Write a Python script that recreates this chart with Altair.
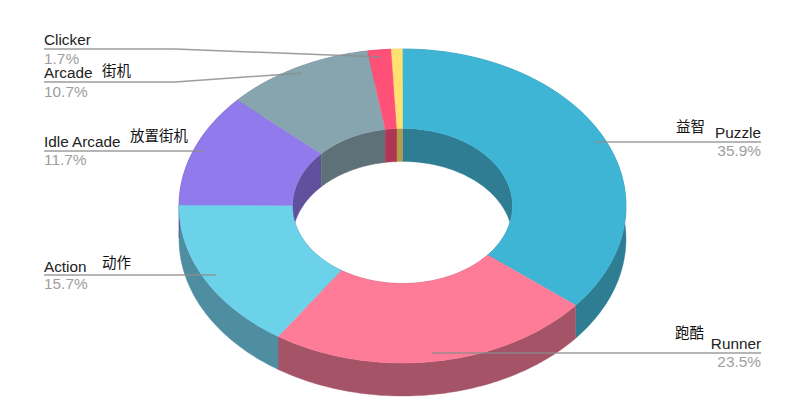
import math
import altair as alt

# ---- values ----
categories = ["Puzzle", "Runner", "Action", "Idle Arcade", "Arcade", "Clicker", "Other"]
shares = [35.9, 23.5, 15.7, 11.7, 10.7, 1.7, 0.8]
top_colors = ["#3FB5D6", "#FF7C98", "#6BD2E9", "#917BEC", "#87A5AF", "#FF5078", "#FFE070"]
wall_colors = ["#2F7D93", "#A55468", "#4F8EA0", "#61509E", "#5F7178", "#AE3654", "#B09C4A"]
label_names = ["Clicker", "Arcade", "Idle Arcade", "Action", "Puzzle", "Runner"]
label_pcts = ["1.7%", "10.7%", "11.7%", "15.7%", "35.9%", "23.5%"]
zh_labels = ["街机", "放置街机", "动作", "益智", "跑酷"]

# ---- layout of the tilted ring, in page pixels ----
CX, CY = 402.5, 206
RX, RY = 223.5, 157
HX, HY = 110, 77.5
DEPTH = 33
W, H = 781, 400


def pt(rx, ry, deg, dy=0):
    a = math.radians(deg)
    return [CX + rx * math.sin(a), CY - ry * math.cos(a) + dy]


def arc(rx, ry, a0, a1, dy=0):
    n = max(2, int(abs(a1 - a0)) + 2)
    return [pt(rx, ry, a0 + (a1 - a0) * i / (n - 1), dy) for i in range(n)]


def feature(name, ring):
    return {
        "type": "Feature",
        "properties": {"name": name},
        "geometry": {"type": "Polygon", "coordinates": [ring + [ring[0]]]},
    }


outer_walls, inner_walls, tops = [], [], []
total = 0.0
for cat, share in zip(categories, shares):
    a0 = total * 3.6
    total += share
    a1 = total * 3.6
    outer_walls.append(feature(cat + " wall", arc(RX, RY, a0, a1) + arc(RX, RY, a1, a0, DEPTH)))
    inner_walls.append(feature(cat + " wall", arc(HX, HY, a0, a1) + arc(HX, HY, a1, a0, DEPTH)))
    tops.append(feature(cat, arc(RX, RY, a0, a1) + arc(HX, HY, a1, a0)))

color_scale = alt.Scale(
    domain=categories + [c + " wall" for c in categories],
    range=top_colors + wall_colors,
)


def shapes(features):
    return (
        alt.Chart(alt.Data(values=features))
        .mark_geoshape(strokeWidth=0.4)
        .encode(
            fill=alt.Fill("properties.name:N", scale=color_scale, legend=None),
            stroke=alt.Stroke("properties.name:N", scale=color_scale, legend=None),
        )
        .project(type="identity", scale=1, translate=[-8, -8])
    )


X = alt.Scale(domain=[8, 8 + W])
Y = alt.Scale(domain=[8 + H, 8])


def xy(field_x="x", field_y="y"):
    return dict(
        x=alt.X(f"{field_x}:Q", scale=X, axis=None),
        y=alt.Y(f"{field_y}:Q", scale=Y, axis=None),
    )


# leader lines
leaders = [
    ("Clicker", [(44, 49), (175, 49), (381, 57)]),
    ("Arcade", [(44, 82), (175, 82), (302, 73)]),
    ("Idle Arcade", [(44, 151), (204, 151)]),
    ("Action", [(44, 275), (216, 275)]),
    ("Puzzle", [(595, 142), (761, 142)]),
    ("Runner", [(432, 353), (761, 353)]),
]
leader_rows = [
    {"k": k, "o": i, "x": p[0], "y": p[1]} for k, pts in leaders for i, p in enumerate(pts)
]
leader_layer = (
    alt.Chart(alt.Data(values=leader_rows))
    .mark_line(color="#8c8c8c", strokeWidth=1.5, opacity=0.85)
    .encode(detail="k:N", order="o:Q", **xy())
)

# labels
name_pos = [(44, 45), (44, 78), (44, 147), (44, 272), (761, 138), (761, 349)]
pct_pos = [(44, 64), (44, 97), (44, 165), (44, 289), (761, 156), (761, 367)]
name_rows = [{"t": t, "x": p[0], "y": p[1]} for t, p in zip(label_names, name_pos)]
pct_rows = [{"t": t, "x": p[0], "y": p[1]} for t, p in zip(label_pcts, pct_pos)]


def text_layer(rows, align, color, size, font="Liberation Sans"):
    return (
        alt.Chart(alt.Data(values=rows))
        .mark_text(align=align, baseline="alphabetic", color=color, fontSize=size, font=font)
        .encode(text="t:N", **xy())
    )


zh_pos = [(102, 76), (130, 141), (102, 268), (676, 132), (675, 338)]
zh_rows = [{"t": t, "x": p[0], "y": p[1]} for t, p in zip(zh_labels, zh_pos)]

chart = (
    alt.layer(
        shapes(outer_walls),
        shapes(inner_walls),
        shapes(tops),
        leader_layer,
        text_layer(name_rows[:4], "left", "#222222", 15.3),
        text_layer(name_rows[4:], "right", "#222222", 15.3),
        text_layer(pct_rows[:4], "left", "#9e9e9e", 15.4),
        text_layer(pct_rows[4:], "right", "#9e9e9e", 15.4),
        text_layer(zh_rows, "left", "#111111", 14.5, "Noto Sans CJK SC"),
    )
    .properties(width=W, height=H, padding=0, autosize=alt.AutoSizeParams(type="none"))
    .configure_view(stroke=None)
)

chart.save("out.html", embed_options={"renderer": "svg", "actions": False})
